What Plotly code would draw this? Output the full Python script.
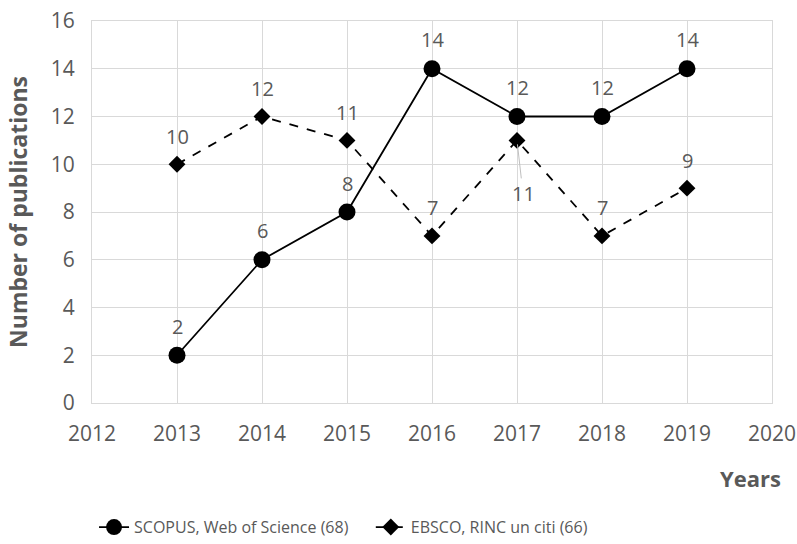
import plotly.graph_objects as go

years = [2013, 2014, 2015, 2016, 2017, 2018, 2019]
scopus_wos = [2, 6, 8, 14, 12, 12, 14]
ebsco_rinc = [10, 12, 11, 7, 11, 7, 9]
x_ticks = [2012, 2013, 2014, 2015, 2016, 2017, 2018, 2019, 2020]
y_ticks = [0, 2, 4, 6, 8, 10, 12, 14, 16]

FONT = "Open Sans"
GREY = "#595959"
LABEL_FONT = dict(size=20, color=GREY, family=FONT)
TICK_FONT = dict(size=21, color=GREY, family=FONT)
LEGEND_FONT = dict(size=16, color=GREY, family=FONT)

fig = go.Figure()
fig.add_trace(go.Scatter(
    x=years, y=scopus_wos, mode="lines+markers",
    name="SCOPUS, Web of Science (68)",
    line=dict(color="black", width=1.8),
    marker=dict(symbol="circle", size=17, color="black"),
    legend="legend",
))
fig.add_trace(go.Scatter(
    x=years, y=ebsco_rinc, mode="lines+markers",
    name="EBSCO, RINC un citi (66)",
    line=dict(color="black", width=1.8, dash="dash"),
    marker=dict(symbol="diamond", size=13, color="black"),
    legend="legend2",
))

annotations = []
for x, y in zip(years, scopus_wos):
    annotations.append(dict(x=x, y=y, text=str(y), showarrow=False,
                            yshift=29, font=LABEL_FONT))
for x, y in zip(years, ebsco_rinc):
    if x == 2017:
        # label placed below the point with a thin leader line
        annotations.append(dict(x=x, y=y, text=str(y), showarrow=True,
                                arrowhead=0, arrowwidth=1, arrowcolor="#bfbfbf",
                                ax=6, ay=53, standoff=4, font=LABEL_FONT))
    else:
        annotations.append(dict(x=x, y=y, text=str(y), showarrow=False,
                                yshift=28, font=LABEL_FONT))

annotations.append(dict(xref="paper", yref="paper", x=0.968, y=-0.196,
                        text="<b>Years</b>", showarrow=False, xanchor="center",
                        yanchor="middle", font=dict(size=22, color=GREY, family=FONT)))

legend_common = dict(orientation="h", yanchor="middle", y=-0.325,
                     font=LEGEND_FONT, itemwidth=30, bgcolor="rgba(0,0,0,0)")

fig.update_layout(
    width=797, height=544,
    margin=dict(l=92, r=25, t=21, b=141, autoexpand=False),
    plot_bgcolor="white", paper_bgcolor="white",
    font=dict(family=FONT, color=GREY),
    showlegend=True,
    legend=dict(x=0.003, xanchor="left", **legend_common),
    legend2=dict(x=0.41, xanchor="left", **legend_common),
    annotations=annotations,
    xaxis=dict(range=[2012, 2020], tickvals=x_ticks, showgrid=True,
               gridcolor="#d9d9d9", gridwidth=1, zeroline=False,
               showline=True, linecolor="#d9d9d9", mirror=True, automargin=False,
               tickfont=TICK_FONT, ticks="", ticklabelstandoff=12),
    yaxis=dict(range=[0, 16], tickvals=y_ticks, showgrid=True,
               gridcolor="#d9d9d9", gridwidth=1, zeroline=False,
               showline=True, linecolor="#d9d9d9", mirror=True, automargin=False,
               tickfont=TICK_FONT, ticks="", ticklabelstandoff=12,
               title=dict(text="<b>Number of publications</b>", standoff=16,
                          font=dict(size=23, color=GREY, family=FONT))),
)

fig.write_html("out.html")
